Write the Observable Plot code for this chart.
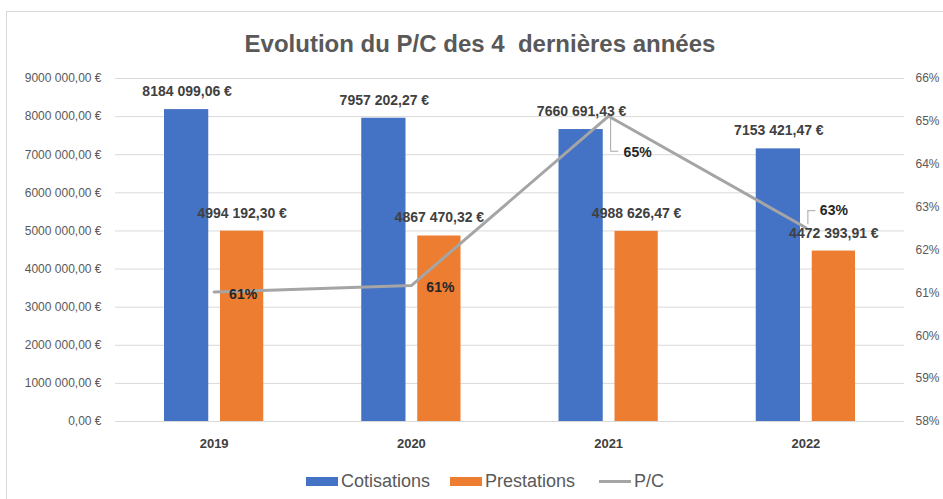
<!DOCTYPE html>
<html>
<head>
<meta charset="utf-8">
<script src="https://cdn.jsdelivr.net/npm/d3@7"></script>
<script src="https://cdn.jsdelivr.net/npm/@observablehq/plot@0.6"></script>
<style>
  body { margin: 0; background: #fff; font-family: "Liberation Sans", Arial, sans-serif; }
  #wrap { position: relative; width: 943px; height: 499px; overflow: hidden; background: #fff; }
  #frame { position: absolute; left: 6px; top: 11px; width: 1000px; height: 1000px;
           border-left: 1px solid #d9d9d9; border-top: 1px solid #d9d9d9; }
  #title { position: absolute; left: 0; top: 29px; width: 960px; text-align: center;
           font-size: 24px; font-weight: bold; color: #595959; white-space: pre; line-height: 30px; }
  #chart { position: absolute; left: 0; top: 0; }
  #legend { position: absolute; left: 306px; top: 470px; height: 22px; display: flex;
            align-items: center; font-size: 18px; color: #595959; white-space: nowrap; }
  .item { display: flex; align-items: center; margin-right: 20px; }
  .sw { width: 32px; height: 9px; margin-right: 3px; }
  .ln { width: 32px; height: 3px; margin-right: 3px; margin-left: 4px; background: #A5A5A5; }
</style>
</head>
<body>
<div id="wrap">
  <div id="frame"></div>
  <div id="chart"></div>
  <div id="title">Evolution du P/C des 4  dernières années</div>
  <div id="legend"></div>
</div>
<script>
// ---- Data ----
const years = [2019, 2020, 2021, 2022];
const cotisations = [8184099.06, 7957202.27, 7660691.43, 7153421.47];
const prestations = [4994192.30, 4867470.32, 4988626.47, 4472393.91];
const pcValues = [0.6102, 0.6117, 0.6512, 0.6252];
const cotisationLabels = ["8184 099,06 €", "7957 202,27 €", "7660 691,43 €", "7153 421,47 €"];
const prestationLabels = ["4994 192,30 €", "4867 470,32 €", "4988 626,47 €", "4472 393,91 €"];
const pcLabels = ["61%", "61%", "65%", "63%"];
const leftTicks = [0, 1000000, 2000000, 3000000, 4000000, 5000000, 6000000, 7000000, 8000000, 9000000];
const leftTickLabels = ["0,00 €", "1000 000,00 €", "2000 000,00 €", "3000 000,00 €", "4000 000,00 €",
  "5000 000,00 €", "6000 000,00 €", "7000 000,00 €", "8000 000,00 €", "9000 000,00 €"];
const rightTicks = [0.58, 0.59, 0.60, 0.61, 0.62, 0.63, 0.64, 0.65, 0.66];
const rightTickLabels = ["58%", "59%", "60%", "61%", "62%", "63%", "64%", "65%", "66%"];
const seriesNames = ["Cotisations", "Prestations", "P/C"];
const colors = ["#4472C4", "#ED7D31", "#A5A5A5"];

// ---- Secondary axis mapping ----
const leftMax = 9000000, rightMin = 0.58, rightMax = 0.66;
const toLeft = p => (p - rightMin) / (rightMax - rightMin) * leftMax;

const rows = years.map((year, i) => ({
  year, cot: cotisations[i], pre: prestations[i], pc: toLeft(pcValues[i]),
  cotLabel: cotisationLabels[i], preLabel: prestationLabels[i], pcLabel: pcLabels[i]
}));
const leftRows = leftTicks.map((v, i) => ({v, label: leftTickLabels[i]}));
const rightRows = rightTicks.map((v, i) => ({v: toLeft(v), label: rightTickLabels[i]}));

const font = "'Liberation Sans', Arial, sans-serif";
const dataLabel = {fill: "#404040", fontSize: 14, fontWeight: "bold", fontFamily: font};
const pcLabel = {fill: "#262626", fontSize: 14, fontWeight: "bold", fontFamily: font};

const chart = Plot.plot({
  width: 943,
  height: 460,
  marginLeft: 115,
  marginRight: 39,
  marginTop: 78,
  marginBottom: 39,
  style: {background: "transparent", fontFamily: font, overflow: "visible"},
  x: {domain: [2018.5, 2022.5], axis: null},
  y: {domain: [0, leftMax], axis: null},
  marks: [
    Plot.ruleY(leftRows, {y: "v", stroke: "#d9d9d9", strokeWidth: 1}),
    Plot.text(leftRows, {y: "v", text: "label", frameAnchor: "left", textAnchor: "end", dx: -14,
      fill: "#595959", fontSize: 12, fontFamily: font}),
    Plot.text(rightRows, {y: "v", text: "label", frameAnchor: "right", textAnchor: "start", dx: 11,
      fill: "#595959", fontSize: 12, fontFamily: font}),
    Plot.rect(rows, {x1: d => d.year - 0.5, x2: d => d.year + 0.5, y1: 0, y2: "cot",
      fill: colors[0], insetLeft: 49, insetRight: 104}),
    Plot.rect(rows, {x1: d => d.year - 0.5, x2: d => d.year + 0.5, y1: 0, y2: "pre",
      fill: colors[1], insetLeft: 105, insetRight: 49}),
    Plot.text(rows, {x: "year", text: d => String(d.year), frameAnchor: "bottom", dy: 26,
      fill: "#404040", fontSize: 13, fontWeight: "bold", fontFamily: font}),
    Plot.line(rows, {x: "year", y: "pc", stroke: colors[2], strokeWidth: 3, strokeLinecap: "round", strokeLinejoin: "round"}),
    Plot.text(rows, {x: "year", y: "cot", text: "cotLabel", dx: -27, dy: -18, ...dataLabel}),
    Plot.text(rows, {x: "year", y: "pre", text: "preLabel", dx: 28, dy: -18, ...dataLabel}),
    // P/C labels
    Plot.text(rows, {filter: d => d.year <= 2020, x: "year", y: "pc", text: "pcLabel", dx: 29, dy: 2, ...pcLabel}),
    Plot.text(rows, {filter: d => d.year === 2021, x: "year", y: "pc", text: "pcLabel", dx: 29, dy: 36, ...pcLabel}),
    Plot.text(rows, {filter: d => d.year === 2022, x: "year", y: "pc", text: "pcLabel", dx: 28, dy: -17, ...pcLabel}),
    // leader lines
    Plot.ruleX(rows, {filter: d => d.year === 2021, x: "year", y1: "pc", y2: "pc", insetTop: 3, insetBottom: -35, dx: 2, stroke: "#a6a6a6", strokeWidth: 1}),
    Plot.ruleY(rows, {filter: d => d.year === 2021, y: "pc", x1: "year", x2: "year", insetLeft: 2, insetRight: -10, dy: 35, stroke: "#a6a6a6", strokeWidth: 1}),
    Plot.ruleX(rows, {filter: d => d.year === 2022, x: "year", y1: "pc", y2: "pc", insetTop: -17, insetBottom: 3, dx: 2, stroke: "#a6a6a6", strokeWidth: 1}),
    Plot.ruleY(rows, {filter: d => d.year === 2022, y: "pc", x1: "year", x2: "year", insetLeft: 2, insetRight: -10, dy: -17, stroke: "#a6a6a6", strokeWidth: 1})
  ]
});
document.getElementById("chart").appendChild(chart);

// ---- Legend ----
const legend = document.getElementById("legend");
seriesNames.forEach((name, i) => {
  const item = document.createElement("div");
  item.className = "item";
  const sw = document.createElement("div");
  if (i < 2) { sw.className = "sw"; sw.style.background = colors[i]; }
  else { sw.className = "ln"; }
  const label = document.createElement("span");
  label.textContent = name;
  item.appendChild(sw);
  item.appendChild(label);
  legend.appendChild(item);
});
</script>
</body>
</html>
